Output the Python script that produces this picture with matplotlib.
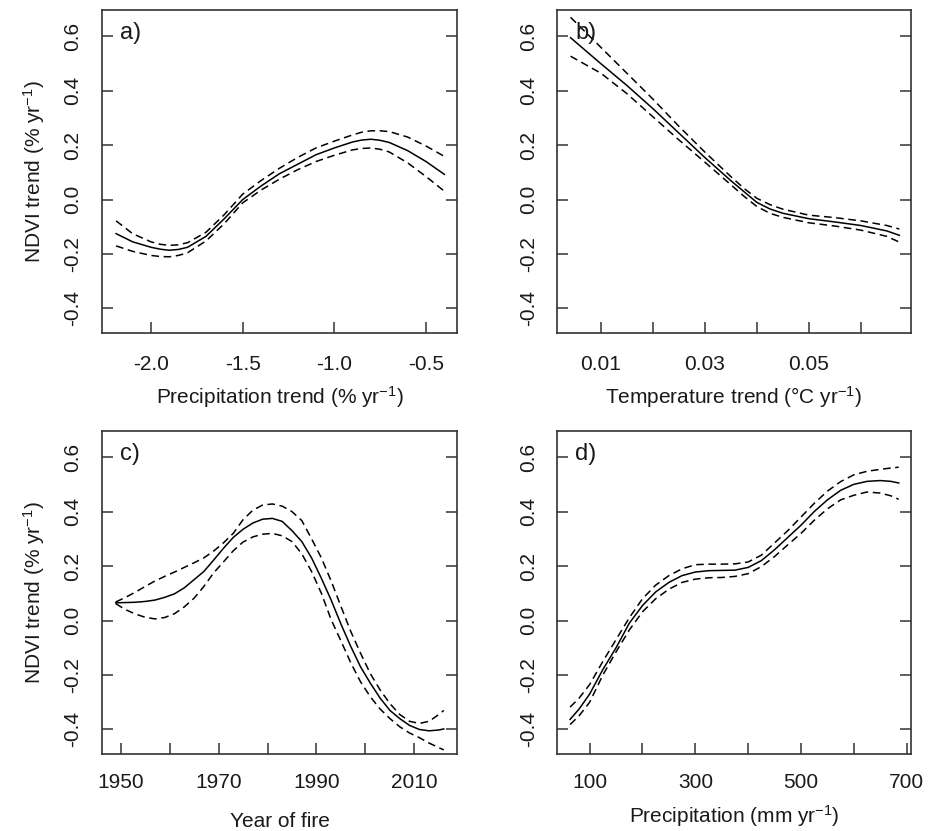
import numpy as np
import matplotlib
matplotlib.use("Agg")
from matplotlib import pyplot as plt

plt.rcParams["font.family"] = ["Liberation Sans", "DejaVu Sans"]
plt.rcParams["mathtext.fontset"] = "custom"
plt.rcParams["mathtext.rm"] = "Liberation Sans"
plt.rcParams["mathtext.it"] = "Liberation Sans:italic"

# a) precipitation trend
precip_trend = [-2.19, -2.1, -2.0, -1.95, -1.9, -1.85, -1.8, -1.7, -1.6, -1.5, -1.4, -1.3,
                -1.2, -1.1, -1.0, -0.9, -0.85, -0.8, -0.75, -0.7, -0.6, -0.5, -0.4]
a_fit = [-0.125, -0.155, -0.175, -0.182, -0.186, -0.183, -0.175, -0.135, -0.07, 0.0, 0.05,
         0.095, 0.13, 0.165, 0.19, 0.212, 0.219, 0.222, 0.218, 0.21, 0.18, 0.14, 0.093]
a_upper = [-0.078, -0.125, -0.155, -0.164, -0.168, -0.166, -0.158, -0.12, -0.055, 0.02,
           0.07, 0.115, 0.155, 0.19, 0.215, 0.238, 0.248, 0.253, 0.253, 0.25, 0.23, 0.197,
           0.159]
a_lower = [-0.17, -0.19, -0.205, -0.209, -0.21, -0.205, -0.195, -0.152, -0.088, -0.012,
           0.035, 0.075, 0.11, 0.14, 0.163, 0.183, 0.188, 0.19, 0.185, 0.175, 0.135, 0.085,
           0.031]

# b) temperature trend
temp_trend = [0.0042, 0.01, 0.015, 0.02, 0.025, 0.03, 0.035, 0.0375, 0.04, 0.0425, 0.045,
              0.05, 0.055, 0.06, 0.065, 0.0674]
b_fit = [0.595, 0.50, 0.42, 0.335, 0.245, 0.155, 0.07, 0.03, -0.01, -0.034, -0.05, -0.07,
         -0.082, -0.095, -0.115, -0.131]
b_upper = [0.67, 0.56, 0.465, 0.37, 0.27, 0.175, 0.085, 0.042, 0.005, -0.018, -0.035,
           -0.057, -0.066, -0.078, -0.095, -0.108]
b_lower = [0.527, 0.465, 0.39, 0.305, 0.22, 0.138, 0.055, 0.013, -0.025, -0.05, -0.065,
           -0.085, -0.097, -0.112, -0.135, -0.156]

# c) year of fire
fire_year = [1949, 1951, 1953, 1955, 1957, 1959, 1961, 1963, 1965, 1967, 1969, 1971,
             1973, 1975, 1977, 1979, 1981, 1983, 1985, 1987, 1989, 1991, 1993, 1995,
             1997, 1999, 2001, 2003, 2005, 2007, 2009, 2011, 2013, 2015, 2016]
c_fit = [0.065, 0.066, 0.067, 0.07, 0.075, 0.085, 0.098, 0.12, 0.15, 0.18, 0.222, 0.265,
         0.305, 0.335, 0.358, 0.372, 0.375, 0.364, 0.33, 0.29, 0.23, 0.155, 0.075, -0.013,
         -0.095, -0.17, -0.23, -0.285, -0.33, -0.36, -0.385, -0.4, -0.405, -0.402, -0.398]
c_upper = [0.068, 0.085, 0.104, 0.125, 0.145, 0.162, 0.178, 0.195, 0.212, 0.23, 0.255,
           0.285, 0.32, 0.37, 0.405, 0.424, 0.428, 0.42, 0.4, 0.367, 0.3, 0.23, 0.145,
           0.052, -0.04, -0.12, -0.195, -0.255, -0.305, -0.345, -0.37, -0.378, -0.37,
           -0.345, -0.33]
c_lower = [0.062, 0.04, 0.024, 0.012, 0.006, 0.011, 0.025, 0.05, 0.082, 0.125, 0.175,
           0.215, 0.256, 0.288, 0.307, 0.317, 0.32, 0.311, 0.29, 0.245, 0.18, 0.1, 0.003,
           -0.075, -0.155, -0.225, -0.28, -0.325, -0.36, -0.39, -0.413, -0.43, -0.45,
           -0.467, -0.475]

# d) precipitation
precip = [63, 80, 100, 125, 150, 175, 200, 225, 250, 275, 300, 325, 350, 375,
          400, 425, 450, 475, 500, 525, 550, 575, 600, 625, 650, 670, 685]
d_fit = [-0.363, -0.325, -0.27, -0.18, -0.1, -0.01, 0.055, 0.105, 0.14, 0.165,
         0.178, 0.183, 0.184, 0.185, 0.195, 0.22, 0.26, 0.305, 0.35, 0.4,
         0.443, 0.478, 0.5, 0.511, 0.514, 0.511, 0.505]
d_upper = [-0.318, -0.285, -0.235, -0.15, -0.07, 0.01, 0.08, 0.13, 0.165, 0.19,
           0.205, 0.207, 0.207, 0.208, 0.215, 0.24, 0.285, 0.33, 0.38, 0.43,
           0.475, 0.51, 0.535, 0.548, 0.555, 0.56, 0.563]
d_lower = [-0.382, -0.35, -0.3, -0.2, -0.115, -0.035, 0.032, 0.08, 0.115, 0.14,
           0.152, 0.157, 0.158, 0.162, 0.172, 0.198, 0.235, 0.278, 0.32, 0.368,
           0.41, 0.443, 0.46, 0.472, 0.468, 0.458, 0.445]

y_ticks = [-0.4, -0.2, 0.0, 0.2, 0.4, 0.6]
y_ticklabels = ["-0.4", "-0.2", "0.0", "0.2", "0.4", "0.6"]
y_label = "NDVI trend (% yr$^{-1}$)"

panels = [
    dict(tag="a)", x=precip_trend, fit=a_fit, up=a_upper, lo=a_lower,
         xlim=(-2.267, -0.331), xticks=[-2.0, -1.5, -1.0, -0.5],
         xticklabels=["-2.0", "-1.5", "-1.0", "-0.5"],
         xlabel="Precipitation trend (% yr$^{-1}$)", labelpad=7,
         pos=[0.1092, 0.5993, 0.3801, 0.3887]),
    dict(tag="b)", x=temp_trend, fit=b_fit, up=b_upper, lo=b_lower,
         xlim=(0.00165, 0.0696), xticks=[0.01, 0.02, 0.03, 0.04, 0.05, 0.06],
         xticklabels=["0.01", "", "0.03", "", "0.05", ""],
         xlabel="Temperature trend (°C yr$^{-1}$)", labelpad=7,
         pos=[0.5967, 0.5993, 0.3784, 0.3887]),
    dict(tag="c)", x=fire_year, fit=c_fit, up=c_upper, lo=c_lower,
         xlim=(1946.2, 2018.7), xticks=[1950, 1960, 1970, 1980, 1990, 2000, 2010],
         xticklabels=["1950", "", "1970", "", "1990", "", "2010"],
         xlabel="Year of fire", labelpad=14,
         pos=[0.1092, 0.0927, 0.3801, 0.3890]),
    dict(tag="d)", x=precip, fit=d_fit, up=d_upper, lo=d_lower,
         xlim=(38.8, 708.8), xticks=[100, 200, 300, 400, 500, 600, 700],
         xticklabels=["100", "", "300", "", "500", "", "700"],
         xlabel="Precipitation (mm yr$^{-1}$)", labelpad=8,
         pos=[0.5967, 0.0927, 0.3790, 0.3890]),
]

fig = plt.figure(figsize=(9.34, 8.31), dpi=100)
edge = "#333333"
dash = (0, (5.0, 3.0))

for i, p in enumerate(panels):
    ax = fig.add_axes(p["pos"])
    ax.plot(p["x"], p["fit"], color="black", lw=1.1)
    ax.plot(p["x"], p["up"], color="black", lw=1.1, linestyle=dash)
    ax.plot(p["x"], p["lo"], color="black", lw=1.1, linestyle=dash)

    ax.set_xlim(*p["xlim"])
    ax.set_ylim(-0.49, 0.697)
    ax.set_xticks(p["xticks"])
    ax.set_xticklabels(p["xticklabels"])
    ax.set_yticks(y_ticks)
    ax.set_yticklabels(y_ticklabels, rotation=90, va="center")

    # R style: inward ticks, y ticks on both sides
    ax.tick_params(axis="both", direction="in", length=8, width=1.1,
                   color=edge, labelsize=15, labelcolor="#1a1a1a")
    ax.tick_params(axis="x", pad=16 if i < 2 else 14)
    ax.tick_params(axis="y", pad=14, right=True)
    for s in ax.spines.values():
        s.set_color(edge)
        s.set_linewidth(1.2)

    ax.set_xlabel(p["xlabel"], fontsize=15, labelpad=p["labelpad"], color="#1a1a1a")
    if i % 2 == 0:
        ax.set_ylabel(y_label, fontsize=15, labelpad=12, color="#1a1a1a")

    ax.text(0.05, 0.929, p["tag"], transform=ax.transAxes, fontsize=17,
            ha="left", va="center", color="#1a1a1a")

plt.savefig("out.png", dpi=100)
plt.close()
